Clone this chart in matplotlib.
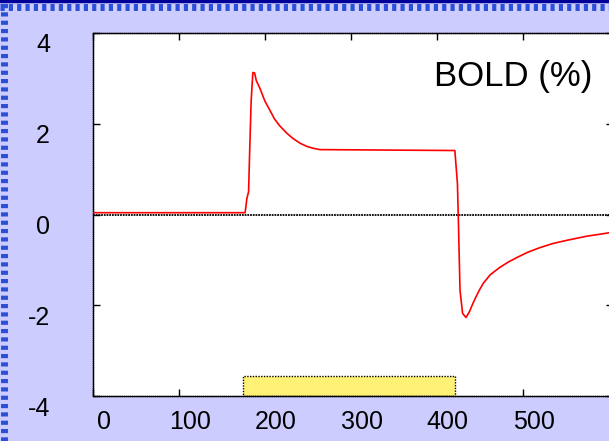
import matplotlib.pyplot as plt
import matplotlib.transforms as mtransforms
from matplotlib.patches import Rectangle

# ---------------- Data ----------------
time = [0, 177, 179, 181, 182, 184, 186, 188, 190, 194, 200, 206, 211, 217, 225, 233, 241, 249, 256, 264,
        421, 424, 425, 427, 430, 434, 438, 442, 446, 450, 454, 462, 473, 483, 493, 506, 520, 535,
        551, 574, 605]
bold = [0.04, 0.04, 0.35, 0.5, 1.2, 2.5, 3.13, 3.12, 2.95, 2.79, 2.5, 2.29, 2.11, 1.96, 1.80, 1.67,
        1.57, 1.50, 1.46, 1.43,
        1.41, 0.68, -0.05, -1.67, -2.18, -2.27, -2.14, -1.96, -1.80, -1.65, -1.52, -1.33, -1.17,
        -1.05, -0.95, -0.83, -0.73, -0.64, -0.57, -0.48, -0.39]

stim_start, stim_end = 175, 421
stim_low, stim_high = -4, -3.55

xticks = [0, 100, 200, 300, 400, 500]
yticks = [4, 2, 0, -2, -4]

# ---------------- Plot ----------------
plt.rcParams["font.family"] = ["Liberation Sans", "DejaVu Sans"]
plt.rcParams["axes.unicode_minus"] = False

fig = plt.figure(figsize=(6.09, 4.41), dpi=100)
fig.patch.set_facecolor("#ccccff")

# dotted blue frame (only left and top visible in the crop)
fig.add_artist(plt.Line2D([0.006, 0.006], [0, 1], transform=fig.transFigure,
                          color="#2a4fd8", lw=5, linestyle=(0, (0.6, 0.6))))
fig.add_artist(plt.Line2D([0, 1], [0.985, 0.985], transform=fig.transFigure,
                          color="#2a4fd8", lw=5, linestyle=(0, (0.6, 0.6))))
fig.add_artist(plt.Line2D([0, 1], [0.997, 0.997], transform=fig.transFigure,
                          color="#000099", lw=2.5))

ax = fig.add_axes([93 / 609, 45 / 441, 520 / 609, 363 / 441])
ax.set_facecolor("white")

ax.add_patch(Rectangle((stim_start, stim_low), stim_end - stim_start, stim_high - stim_low,
                       facecolor="#fff176", edgecolor="black", lw=1, linestyle=(0, (1, 1)),
                       zorder=2))
ax.axhline(0, color="black", lw=1.3, linestyle=(0, (1, 0.5)), zorder=2)
ax.plot(time, bold, color="red", lw=1.2, zorder=3)

ax.set_xlim(0, 605)
ax.set_ylim(-4, 4)
ax.set_xticks(xticks)
ax.set_yticks(yticks)
ax.tick_params(direction="in", length=5, width=1, top=True, right=True,
               labelsize=18, pad=10, colors="black")
ax.tick_params(axis="y", pad=31)

for sp in ax.spines.values():
    sp.set_linestyle((0, (1, 0.5)))
    sp.set_linewidth(1)

# shift tick labels like in the reference
dx = mtransforms.ScaledTranslation(11 / 100, 0, fig.dpi_scale_trans)
for lab in ax.get_xticklabels():
    lab.set_transform(lab.get_transform() + dx)
dy = mtransforms.ScaledTranslation(0, -10 / 100, fig.dpi_scale_trans)
for lab in ax.get_yticklabels():
    lab.set_transform(lab.get_transform() + dy)

ax.text(0.96, 0.88, "BOLD (%)", transform=ax.transAxes, fontsize=25,
        ha="right", va="center")

fig.savefig("out.png", dpi=100, facecolor=fig.get_facecolor())
